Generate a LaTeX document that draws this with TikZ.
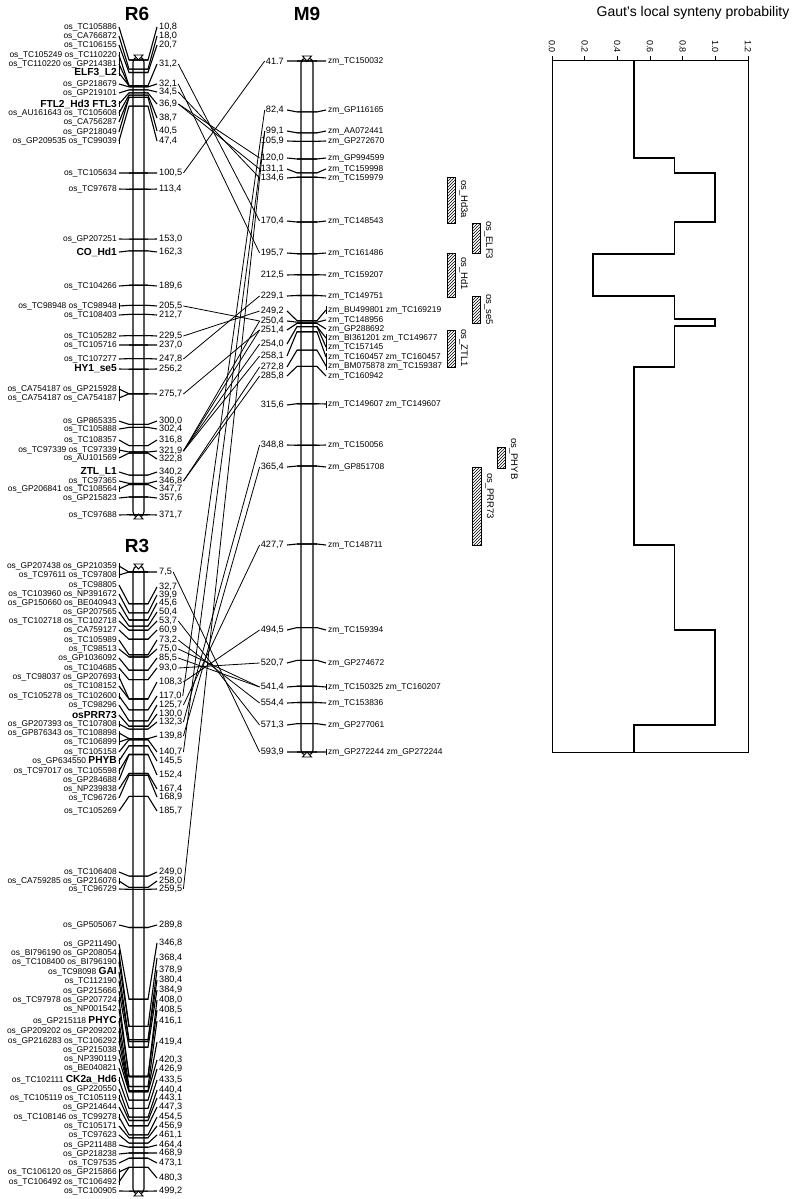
\documentclass[tikz,border=0pt]{standalone}
\usepackage{fontspec}
\setsansfont{Liberation Sans}
\usetikzlibrary{patterns}
\newcommand{\gene}[1]{{\fontsize{10.2}{10}\selectfont\bfseries #1}}
\tikzset{
  every picture/.style={font=\sffamily},
  chrom/.style={draw, fill=white, line width=1.1pt, rounded corners=5pt},
  chromcap/.style={draw, fill=white, line width=0.9pt},
  tick/.style={line width=1.1pt},
  link/.style={line width=0.8pt},
  lab/.style={font=\sffamily\fontsize{8.4}{9}\selectfont, inner sep=1pt},
  num/.style={font=\sffamily\fontsize{9.2}{10}\selectfont, inner sep=1pt},
  hatch/.style={draw, line width=0.9pt, pattern=north east lines},
  vlab/.style={rotate=-90, anchor=south west, font=\sffamily\fontsize{9.5}{10}\selectfont, inner sep=1pt},
  chrtitle/.style={font=\sffamily\bfseries\fontsize{19}{19}\selectfont},
}

\begin{document}
\begin{tikzpicture}[x=1pt,y=-1pt]
  \useasboundingbox (0,0) rectangle (796,1199);
  % titles
  \node[chrtitle] (r6title) at (137,14) {R6};
  \node[chrtitle] (m9title) at (307,14) {M9};
  \node[chrtitle] (r3title) at (137,546) {R3};
  \node[font=\sffamily\fontsize{14}{14}\selectfont] (gauttitle) at (693,13) {Gaut's local synteny probability};

  % chromosome bars
  \draw[chrom] (133,57) rectangle (144,517);
  \draw[chrom] (133,566) rectangle (144,1194);
  \draw[chrom] (301,58) rectangle (313,755);
  \foreach \c/\t/\b in {138.5/55/519, 138.5/564/1196, 307/56/757}{
    \draw[chromcap] (\c-4.5,\t) -- (\c+4.5,\t) -- (\c,\t+5) -- cycle;
    \draw[chromcap] (\c-4.5,\b) -- (\c+4.5,\b) -- (\c,\b-5) -- cycle;
  }

  % R6, left
  \foreach \p/\ly/\lt [count=\i] in {10.8/27/os\_TC105886, 18.0/36/os\_CA766872, 20.7/45/os\_TC106155,
    31.2/55/os\_TC105249 os\_TC110220, 31.2/64/os\_TC110220 os\_GP214381, 31.2/73/\gene{ELF3\_L2},
    32.1/84/os\_GP218679, 34.5/93/os\_GP219101, 36.9/104/\gene{FTL2\_Hd3 FTL3},
    38.7/113/os\_AU161643 os\_TC105608, 40.5/122/os\_CA756287, 40.5/132/os\_GP218049,
    47.4/141/os\_GP209535 os\_TC99039, 100.5/173/os\_TC105634, 113.4/189/os\_TC97678,
    153.0/239/os\_GP207251, 162.3/252/\gene{CO\_Hd1}, 189.6/286/os\_TC104266,
    205.5/306/os\_TC98948 os\_TC98948, 212.7/315/os\_TC108403, 229.5/336/os\_TC105282,
    237.0/345/os\_TC105716, 247.8/359/os\_TC107277, 256.2/369/\gene{HY1\_se5},
    275.7/389/os\_CA754187 os\_GP215928, 275.7/398/os\_CA754187 os\_CA754187,
    300.0/421/os\_GP865335, 302.4/429/os\_TC105888, 316.8/440/os\_TC108357,
    321.9/450/os\_TC97339 os\_TC97339, 322.8/458/os\_AU101569, 340.2/472/\gene{ZTL\_L1},
    346.8/481/os\_TC97365, 347.7/489/os\_GP206841 os\_TC108564, 357.6/498/os\_GP215823,
    371.7/515/os\_TC97688}{
    \pgfmathsetmacro{\yy}{46.4+1.26*\p}
    \draw[tick] (119,\ly) -- (129,\yy) -- (148,\yy);
    \node[lab, anchor=east] (r6l\i) at (118,\ly) {\lt};
  }
  % R6, right
  \foreach \p/\ry/\rt/\nm in {10.8/27/{10,8}/r6n108, 18.0/36/{18,0}/r6n180, 20.7/45/{20,7}/r6n207,
    31.2/64/{31,2}/r6n312, 32.1/84/{32,1}/r6n321, 34.5/92/{34,5}/r6n345, 36.9/104/{36,9}/r6n369,
    38.7/118/{38,7}/r6n387, 40.5/131/{40,5}/r6n405, 47.4/141/{47,4}/r6n474,
    100.5/173/{100,5}/r6n1005, 113.4/189/{113,4}/r6n1134, 153.0/239/{153,0}/r6n1530,
    162.3/252/{162,3}/r6n1623, 189.6/286/{189,6}/r6n1896, 205.5/306/{205,5}/r6n2055,
    212.7/315/{212,7}/r6n2127, 229.5/336/{229,5}/r6n2295, 237.0/345/{237,0}/r6n2370,
    247.8/359/{247,8}/r6n2478, 256.2/369/{256,2}/r6n2562, 275.7/394/{275,7}/r6n2757,
    300.0/421/{300,0}/r6n3000, 302.4/429/{302,4}/r6n3024, 316.8/440/{316,8}/r6n3168,
    321.9/451/{321,9}/r6n3219, 322.8/459/{322,8}/r6n3228, 340.2/472/{340,2}/r6n3402,
    346.8/481/{346,8}/r6n3468, 347.7/489/{347,7}/r6n3477, 357.6/498/{357,6}/r6n3576,
    371.7/515/{371,7}/r6n3717}{
    \pgfmathsetmacro{\yy}{46.4+1.26*\p}
    \draw[tick] (129,\yy) -- (148,\yy) -- (157,\ry);
    \node[num, anchor=west] (\nm) at (158,\ry) {\rt};
  }

  % R3, left
  \foreach \p/\ly/\lt [count=\i] in {7.5/566/os\_GP207438 os\_GP210359, 7.5/575/os\_TC97611 os\_TC97808,
    32.7/585/os\_TC98805, 39.9/594/os\_TC103960 os\_NP391672, 45.6/603/os\_GP150660 os\_BE040943,
    50.4/612/os\_GP207565, 53.7/621/os\_TC102718 os\_TC102718, 60.9/630/os\_CA759127,
    73.2/640/os\_TC105989, 75.0/649/os\_TC98513, 85.5/658/os\_GP1036092, 93.0/668/os\_TC104685,
    108.3/677/os\_TC98037 os\_GP207693, 108.3/686/os\_TC108152, 117.0/696/os\_TC105278 os\_TC102600,
    125.7/705/os\_TC98296, 130.0/715/\gene{osPRR73}, 132.3/724/os\_GP207393 os\_TC107808,
    139.8/733/os\_GP876343 os\_TC108898, 139.8/742/os\_TC106899, 140.7/752/os\_TC105158,
    145.5/761/os\_GP634550 \gene{PHYB}, 152.4/771/os\_TC97017 os\_TC105598, 152.4/780/os\_GP284688,
    167.4/789/os\_NP239838, 168.9/798/os\_TC96726, 185.7/811/os\_TC105269,
    249.0/872/os\_TC106408, 258.0/881/os\_CA759285 os\_GP216076, 259.5/889/os\_TC96729,
    289.8/925/os\_GP505067, 346.8/944/os\_GP211490, 368.4/953/os\_BI796190 os\_GP208054,
    368.4/962/os\_TC108400 os\_BI796190, 378.9/972/os\_TC98098 \gene{GAI}, 380.4/981/os\_TC112190,
    384.9/991/os\_GP215666, 408.0/1000/os\_TC97978 os\_GP207724, 408.5/1009/os\_NP001542,
    416.1/1021/os\_GP215118 \gene{PHYC}, 419.4/1031/os\_GP209202 os\_GP209202,
    419.4/1041/os\_GP216283 os\_TC106292, 419.4/1050/os\_GP215038, 420.3/1059/os\_NP390119,
    426.9/1068/os\_BE040821, 433.5/1080/os\_TC102111 \gene{CK2a\_Hd6}, 440.4/1089/os\_GP220550,
    443.1/1098/os\_TC105119 os\_TC105119, 447.3/1107/os\_GP214644, 454.5/1117/os\_TC108146 os\_TC99278,
    456.9/1126/os\_TC105171, 461.1/1135/os\_TC97623, 464.4/1145/os\_GP211488, 468.9/1154/os\_GP218238,
    473.1/1163/os\_TC97535, 480.3/1172/os\_TC106120 os\_GP215866, 480.3/1182/os\_TC106492 os\_TC106492,
    499.2/1191/os\_TC100905}{
    \pgfmathsetmacro{\yy}{562.6+1.259*\p}
    \draw[tick] (119,\ly) -- (129,\yy) -- (148,\yy);
    \node[lab, anchor=east] (r3l\i) at (118,\ly) {\lt};
  }
  % R3, right
  \foreach \p/\ry/\rt/\nm in {7.5/572/{7,5}/r3n75, 32.7/587/{32,7}/r3n327, 39.9/595/{39,9}/r3n399,
    45.6/603/{45,6}/r3n456, 50.4/612/{50,4}/r3n504, 53.7/621/{53,7}/r3n537, 60.9/630/{60,9}/r3n609,
    73.2/640/{73,2}/r3n732, 75.0/649/{75,0}/r3n750, 85.5/658/{85,5}/r3n855, 93.0/668/{93,0}/r3n930,
    108.3/682/{108,3}/r3n1083, 117.0/696/{117,0}/r3n1170, 125.7/705/{125,7}/r3n1257,
    130.0/714/{130,0}/r3n1300, 132.3/722/{132,3}/r3n1323, 139.8/736/{139,8}/r3n1398,
    140.7/752/{140,7}/r3n1407, 145.5/761/{145,5}/r3n1455, 152.4/775/{152,4}/r3n1524,
    167.4/789/{167,4}/r3n1674, 168.9/797/{168,9}/r3n1689, 185.7/811/{185,7}/r3n1857,
    249.0/872/{249,0}/r3n2490, 258.0/881/{258,0}/r3n2580, 259.5/889/{259,5}/r3n2595,
    289.8/925/{289,8}/r3n2898, 346.8/943/{346,8}/r3n3468, 368.4/958/{368,4}/r3n3684,
    378.9/970/{378,9}/r3n3789, 380.4/980/{380,4}/r3n3804, 384.9/990/{384,9}/r3n3849,
    408.0/1000/{408,0}/r3n4080, 408.5/1010/{408,5}/r3n4085, 416.1/1021/{416,1}/r3n4161,
    419.4/1042/{419,4}/r3n4194, 420.3/1060/{420,3}/r3n4203, 426.9/1069/{426,9}/r3n4269,
    433.5/1080/{433,5}/r3n4335, 440.4/1090/{440,4}/r3n4404, 443.1/1098/{443,1}/r3n4431,
    447.3/1107/{447,3}/r3n4473, 454.5/1117/{454,5}/r3n4545, 456.9/1126/{456,9}/r3n4569,
    461.1/1135/{461,1}/r3n4611, 464.4/1145/{464,4}/r3n4644, 468.9/1153/{468,9}/r3n4689,
    473.1/1163/{473,1}/r3n4731, 480.3/1178/{480,3}/r3n4803, 499.2/1191/{499,2}/r3n4992}{
    \pgfmathsetmacro{\yy}{562.6+1.259*\p}
    \draw[tick] (129,\yy) -- (148,\yy) -- (157,\ry);
    \node[num, anchor=west] (\nm) at (158,\ry) {\rt};
  }

  % M9, left
  \foreach \p/\ly/\lt/\nm in {41.7/61/{41.7}/m9n417, 82.4/110/{82,4}/m9n824, 99.1/131/{99,1}/m9n991,
    105.9/141/{105,9}/m9n1059, 120.0/158/{120,0}/m9n1200, 131.1/169/{131,1}/m9n1311,
    134.6/178/{134,6}/m9n1346, 170.4/221/{170,4}/m9n1704, 195.7/253/{195,7}/m9n1957,
    212.5/275/{212,5}/m9n2125, 229.1/296/{229,1}/m9n2291, 249.2/311/{249,2}/m9n2492,
    250.4/321/{250,4}/m9n2504, 251.4/330/{251,4}/m9n2514, 254.0/344/{254,0}/m9n2540,
    258.1/356/{258,1}/m9n2581, 272.8/367/{272,8}/m9n2728, 285.8/376/{285,8}/m9n2858,
    315.6/405/{315,6}/m9n3156, 348.8/445/{348,8}/m9n3488, 365.4/467/{365,4}/m9n3654,
    427.7/545/{427,7}/m9n4277, 494.5/630/{494,5}/m9n4945, 520.7/663/{520,7}/m9n5207,
    541.4/687/{541,4}/m9n5414, 554.4/703/{554,4}/m9n5544, 571.3/725/{571,3}/m9n5713,
    593.9/752/{593,9}/m9n5939}{
    \pgfmathsetmacro{\yy}{8.82+1.2513*\p}
    \draw[tick] (287,\ly) -- (297,\yy) -- (317,\yy);
    \node[num, anchor=east] (\nm) at (285,\ly) {\lt};
  }
  % M9, right
  \foreach \p/\ry/\rt [count=\i] in {41.7/61/zm\_TC150032, 82.4/110/zm\_GP116165, 99.1/131/zm\_AA072441,
    105.9/141/zm\_GP272670, 120.0/158/zm\_GP994599, 131.1/169/zm\_TC159998, 134.6/178/zm\_TC159979,
    170.4/221/zm\_TC148543, 195.7/253/zm\_TC161486, 212.5/275/zm\_TC159207, 229.1/296/zm\_TC149751,
    249.2/310/zm\_BU499801 zm\_TC169219, 250.4/320/zm\_TC148956, 251.4/329/zm\_GP288692,
    254.0/338/zm\_BI361201 zm\_TC149677, 254.0/347/zm\_TC157145, 258.1/357/zm\_TC160457 zm\_TC160457,
    272.8/366/zm\_BM075878 zm\_TC159387, 285.8/376/zm\_TC160942, 315.6/404/zm\_TC149607 zm\_TC149607,
    348.8/445/zm\_TC150056, 365.4/467/zm\_GP851708, 427.7/545/zm\_TC148711, 494.5/630/zm\_TC159394,
    520.7/663/zm\_GP274672, 541.4/687/zm\_TC150325 zm\_TC160207, 554.4/703/zm\_TC153836,
    571.3/725/zm\_GP277061, 593.9/752/zm\_GP272244 zm\_GP272244}{
    \pgfmathsetmacro{\yy}{8.82+1.2513*\p}
    \draw[tick] (297,\yy) -- (317,\yy) -- (326,\ry);
    \node[lab, anchor=west] (m9l\i) at (327,\ry) {\rt};
  }

  % brackets of markers at one locus
  \foreach \ya/\yb in {52/76, 101/107, 110/116, 138/144, 303/309, 386/401, 447/453, 486/492,
    563/578, 674/680, 693/699, 721/727, 731/745, 758/764, 768/774, 878/884, 950/965,
    997/1003, 1018/1024, 1028/1044, 1077/1083, 1095/1101, 1114/1120, 1169/1185}{
    \draw[tick] (119.5,\ya) -- (119.5,\yb);
  }
  \foreach \ya/\yb in {306/314, 334/351, 353/370, 401/408, 684/690, 749/755}{
    \draw[tick] (326.5,\ya) -- (326.5,\yb);
  }

  % synteny links
  \draw[link] (r6n312.east) -- (m9n1704.west);
  \draw[link] (r6n321.east) -- (m9n1957.west);
  \draw[link] (r6n345.east) -- (m9n1346.west);
  \draw[link] (r6n369.east) -- (m9n1200.west);
  \draw[link] (r6n369.east) -- (m9n1311.west);
  \draw[link] (r6n1005.east) -- (m9n417.west);
  \draw[link] (r6n2055.east) -- (m9n2504.west);
  \draw[link] (r6n2295.east) -- (m9n2492.west);
  \draw[link] (r6n2478.east) -- (m9n2291.west);
  \draw[link] (r6n2757.east) -- (m9n2514.west);
  \draw[link] (r6n3219.east) -- (m9n2504.west);
  \draw[link] (r6n3219.east) -- (m9n2514.west);
  \draw[link] (r6n3219.east) -- (m9n2540.west);
  \draw[link] (r6n3219.east) -- (m9n2581.west);
  \draw[link] (r6n3468.east) -- (m9n2728.west);
  \draw[link] (r6n3468.east) -- (m9n2858.west);
  \draw[link] (r3n75.east) -- (m9n5939.west);
  \draw[link] (r3n537.east) -- (m9n5713.west);
  \draw[link] (r3n732.east) -- (m9n5544.west);
  \draw[link] (r3n750.east) -- (m9n5414.west);
  \draw[link] (r3n855.east) -- (m9n5414.west);
  \draw[link] (r3n930.east) -- (m9n5207.west);
  \draw[link] (r3n1083.east) -- (m9n4945.west);
  \draw[link] (r3n1170.east) -- (m9n824.west);
  \draw[link] (r3n1257.east) -- (m9n4277.west);
  \draw[link] (r3n1323.east) -- (m9n3488.west);
  \draw[link] (r3n1398.east) -- (m9n3654.west);
  \draw[link] (r3n1407.east) -- (m9n991.west);
  \draw[link] (r3n2595.east) -- (m9n991.west);

  % rice QTL blocks
  \draw[hatch] (447,177) rectangle (455,223);
  \node[vlab] (hd3a) at (458,179) {os\_Hd3a};
  \draw[hatch] (472,223) rectangle (480,253);
  \node[vlab] (elf3) at (483,220) {os\_ELF3};
  \draw[hatch] (447,253) rectangle (455,297);
  \node[vlab] (hd1) at (458,256) {os\_Hd1};
  \draw[hatch] (472,296) rectangle (480,323);
  \node[vlab] (se5) at (483,293) {os\_se5};
  \draw[hatch] (447,330) rectangle (455,367);
  \node[vlab] (ztl1) at (458,328) {os\_ZTL1};
  \draw[hatch] (497,447) rectangle (505,468);
  \node[vlab] (phyb) at (508,437) {os\_PHYB};
  \draw[hatch] (472,467) rectangle (481,545);
  \node[vlab] (prr73) at (484,472) {os\_PRR73};

  % probability plot
  \draw[line width=0.9pt] (552,60) -- (748,60) -- (748,752) -- (552,752) -- cycle;
  \foreach \v [count=\i] in {0.0,0.2,0.4,0.6,0.8,1.0,1.2}{
    \draw[line width=0.9pt] (552+163.3*\v,60) -- (552+163.3*\v,56);
    \node[rotate=-90, anchor=east, font=\sffamily\fontsize{9}{10}\selectfont, inner sep=1pt] (tk\i)
      at (552+163.3*\v,54) {\v};
  }
  \draw[line width=1.8pt] (633.7,60) -- (633.7,158) -- (674.5,158) -- (674.5,173) -- (715.3,173)
    -- (715.3,222) -- (674.5,222) -- (674.5,254) -- (592.8,254) -- (592.8,296) -- (674.5,296)
    -- (674.5,319) -- (715.3,319) -- (715.3,326) -- (674.5,326) -- (674.5,367) -- (633.7,367)
    -- (633.7,545) -- (674.5,545) -- (674.5,630) -- (715.3,630) -- (715.3,725) -- (633.7,725)
    -- (633.7,752);
\end{tikzpicture}
\end{document}
